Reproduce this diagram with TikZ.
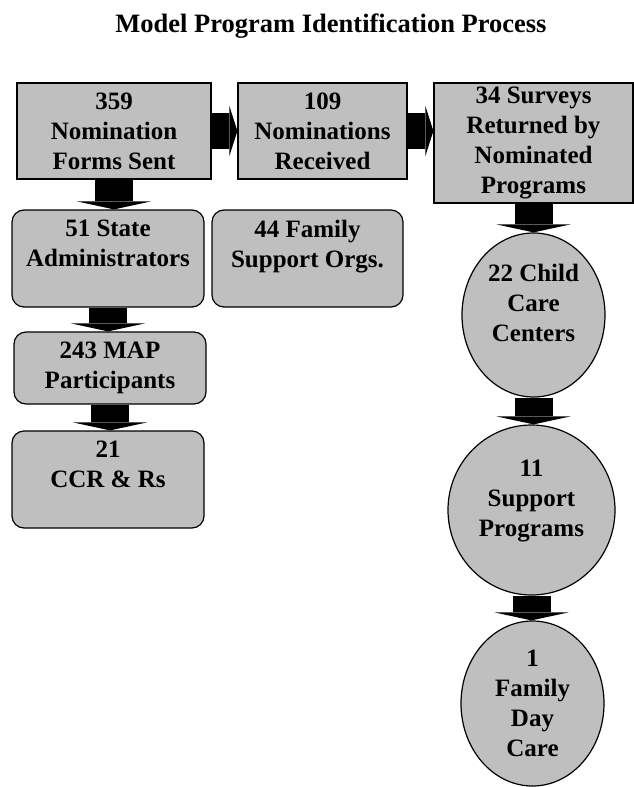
\documentclass[tikz,border=0pt]{standalone}
\usepackage{fontspec}
\setmainfont{Liberation Serif}
\usetikzlibrary{arrows.meta,shapes.geometric}

\tikzset{
  box/.style={draw,line width=1.2pt,fill=black!25,align=center,inner sep=2pt,
    font=\bfseries\fontsize{25}{30}\selectfont},
  rbox/.style={box,rounded corners=12pt},
  oval/.style={box,ellipse,inner sep=0pt},
  blk/.style={line width=38pt,-{Triangle[width=74pt,length=8pt,line width=0pt]}},
  blkh/.style={line width=36pt,-{Triangle[width=50pt,length=8pt,line width=0pt]}}
}

\begin{document}
\begin{tikzpicture}[x=1pt,y=-1pt]
\useasboundingbox (0,0) rectangle (634,787);

\node[anchor=base,font=\bfseries\fontsize{26.5}{30}\selectfont] (title) at (331,32) {Model Program Identification Process};

% top row
\node[box,minimum width=194pt,minimum height=96pt] (nf) at (114,131) {359\\Nomination\\Forms Sent};
\node[box,minimum width=169pt,minimum height=96pt] (nr) at (322.5,131) {109\\Nominations\\Received};
\node[box,minimum width=199pt,minimum height=120pt] (sr) at (533.5,143) {34 Surveys\\Returned by\\Nominated\\Programs};

% left column
\node[rbox,minimum width=192pt,minimum height=97pt] (sa) at (108,258.5) {51 State\\Administrators\\~};
\node[rbox,minimum width=191pt,minimum height=97pt] (fs) at (307.5,258.5) {44 Family\\Support Orgs.\\~};
\node[rbox,minimum width=192pt,minimum height=72pt] (map) at (110,368) {243 MAP\\Participants};
\node[rbox,minimum width=192pt,minimum height=97pt] (ccr) at (108,479.5) {21\\CCR \& Rs\\~};

% right column
\node[oval,minimum width=143pt,minimum height=164pt] (cc) at (533.5,315) {22 Child\\Care\\Centers\\[-6pt]~};
\node[oval,minimum width=167pt,minimum height=170pt] (sp) at (531.5,510) {11\\Support\\Programs\\[-6pt]~};
\node[oval,minimum width=143pt,minimum height=165pt] (fd) at (532.5,703.5) {1\\Family\\Day\\Care};

\draw[blkh] (nf.east) -- (nr.west);
\draw[blkh] (nr.east) -- (sr.west |- nr.east);
\draw[blk] (nf.south) -- (nf.south |- sa.north);
\draw[blk] (sa.south) -- (sa.south |- map.north);
\draw[blk] (map.south) -- (map.south |- ccr.north);
\draw[blk] (sr.south) -- (cc.north);
\draw[blk] (cc.south) -- (cc.south |- sp.north);
\draw[blk] (sp.south) -- (sp.south |- fd.north);
\end{tikzpicture}
\end{document}
